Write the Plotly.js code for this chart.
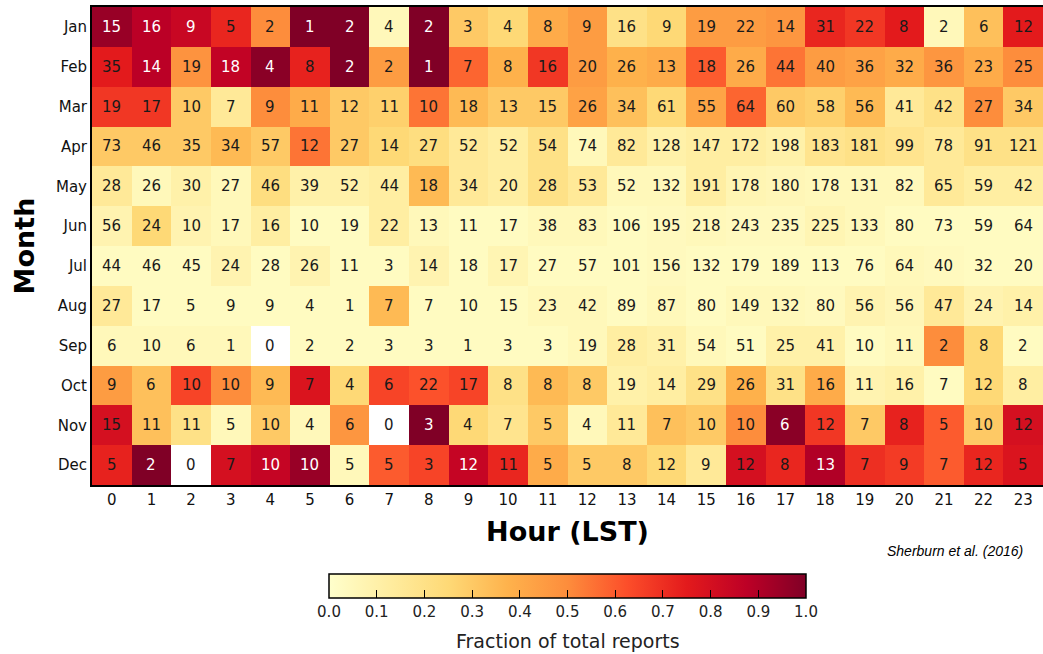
<!DOCTYPE html>
<html>
<head>
<meta charset="utf-8">
<script src="https://cdn.plot.ly/plotly-3.0.1.min.js"></script>
<style>html,body{margin:0;padding:0;background:#fff;} #chart{width:1043px;height:654px;}</style>
</head>
<body>
<div id="chart"></div>
<script>
const hours = ['0','1','2','3','4','5','6','7','8','9','10','11','12','13','14','15','16','17','18','19','20','21','22','23'];
const months = ['Jan','Feb','Mar','Apr','May','Jun','Jul','Aug','Sep','Oct','Nov','Dec'];

// report counts (text in cells)
const counts = [
  [15,16,9,5,2,1,2,4,2,3,4,8,9,16,9,19,22,14,31,22,8,2,6,12],
  [35,14,19,18,4,8,2,2,1,7,8,16,20,26,13,18,26,44,40,36,32,36,23,25],
  [19,17,10,7,9,11,12,11,10,18,13,15,26,34,61,55,64,60,58,56,41,42,27,34],
  [73,46,35,34,57,12,27,14,27,52,52,54,74,82,128,147,172,198,183,181,99,78,91,121],
  [28,26,30,27,46,39,52,44,18,34,20,28,53,52,132,191,178,180,178,131,82,65,59,42],
  [56,24,10,17,16,10,19,22,13,11,17,38,83,106,195,218,243,235,225,133,80,73,59,64],
  [44,46,45,24,28,26,11,3,14,18,17,27,57,101,156,132,179,189,113,76,64,40,32,20],
  [27,17,5,9,9,4,1,7,7,10,15,23,42,89,87,80,149,132,80,56,56,47,24,14],
  [6,10,6,1,0,2,2,3,3,1,3,3,19,28,31,54,51,25,41,10,11,2,8,2],
  [9,6,10,10,9,7,4,6,22,17,8,8,8,19,14,29,26,31,16,11,16,7,12,8],
  [15,11,11,5,10,4,6,0,3,4,7,5,4,11,7,10,10,6,12,7,8,5,10,12],
  [5,2,0,7,10,10,5,5,3,12,11,5,5,8,12,9,12,8,13,7,9,7,12,5]
];

// fraction of total reports (colour); null = no reports
const fraction = [
  [0.95,0.88,0.84,0.72,0.50,1.00,1.00,0.05,1.00,0.30,0.25,0.40,0.45,0.20,0.25,0.45,0.45,0.47,0.72,0.68,0.75,0.05,0.33,0.75],
  [0.75,0.88,0.48,0.86,0.98,0.73,1.00,0.45,1.00,0.58,0.38,0.68,0.45,0.38,0.40,0.60,0.40,0.55,0.45,0.43,0.40,0.47,0.40,0.50],
  [0.68,0.68,0.30,0.15,0.50,0.40,0.30,0.28,0.55,0.35,0.30,0.30,0.43,0.33,0.25,0.42,0.58,0.30,0.28,0.35,0.15,0.20,0.50,0.30],
  [0.30,0.30,0.30,0.35,0.30,0.55,0.30,0.25,0.22,0.15,0.12,0.20,0.05,0.15,0.10,0.12,0.12,0.10,0.18,0.20,0.18,0.15,0.20,0.20],
  [0.15,0.05,0.10,0.05,0.22,0.10,0.10,0.12,0.35,0.15,0.12,0.20,0.15,0.05,0.05,0.12,0.07,0.06,0.05,0.05,0.05,0.15,0.12,0.12],
  [0.08,0.25,0.08,0.05,0.12,0.03,0.03,0.12,0.05,0.03,0.03,0.05,0.05,0.03,0.04,0.05,0.04,0.04,0.07,0.05,0.03,0.03,0.03,0.03],
  [0.03,0.03,0.03,0.08,0.03,0.08,0.03,0.03,0.08,0.03,0.07,0.03,0.03,0.03,0.04,0.03,0.03,0.03,0.03,0.03,0.05,0.04,0.03,0.03],
  [0.15,0.03,0.03,0.03,0.03,0.03,0.03,0.35,0.03,0.03,0.03,0.05,0.05,0.03,0.05,0.03,0.05,0.05,0.04,0.08,0.06,0.15,0.08,0.10],
  [0.05,0.05,0.05,0.05,null,0.03,0.03,0.03,0.03,0.03,0.03,0.03,0.05,0.12,0.10,0.05,0.03,0.10,0.10,0.03,0.05,0.50,0.25,0.03],
  [0.45,0.33,0.65,0.50,0.35,0.78,0.25,0.65,0.62,0.65,0.20,0.35,0.30,0.10,0.12,0.20,0.38,0.20,0.40,0.08,0.10,0.03,0.25,0.12],
  [0.80,0.33,0.20,0.05,0.30,0.05,0.47,null,1.00,0.25,0.18,0.30,0.05,0.15,0.33,0.30,0.50,0.98,0.68,0.30,0.73,0.60,0.30,0.80],
  [0.73,1.00,null,0.80,0.85,0.95,0.05,0.60,0.65,0.85,0.72,0.40,0.30,0.30,0.25,0.15,0.80,0.72,0.90,0.70,0.67,0.60,0.72,0.78]
];

const cbTicks = [0.0,0.1,0.2,0.3,0.4,0.5,0.6,0.7,0.8,0.9,1.0];

const ylorrd = [
  [0.0,'#ffffcc'],[0.125,'#ffeda0'],[0.25,'#fed976'],[0.375,'#feb24c'],
  [0.5,'#fd8d3c'],[0.625,'#fc4e2a'],[0.75,'#e31a1c'],[0.875,'#bd0026'],[1.0,'#800026']
];

const annotations = [];
months.forEach((m, i) => {
  hours.forEach((h, j) => {
    const v = fraction[i][j];
    annotations.push({
      x: h, y: m, xref: 'x', yref: 'y',
      text: String(counts[i][j]), showarrow: false,
      font: {family: 'DejaVu Sans', size: 15, color: (v !== null && v >= 0.82) ? '#ffffff' : '#1a1a1a'}
    });
  });
});
annotations.push({
  xref: 'paper', yref: 'paper', x: 0.981, y: -0.117, xanchor: 'right', yanchor: 'top',
  text: '<i>Sherburn et al. (2016)</i>', showarrow: false,
  font: {family: 'Liberation Sans', size: 14, color: '#000'}
});
annotations.push({
  xref: 'paper', yref: 'paper', x: 0.5, y: -0.3, xanchor: 'center', yanchor: 'top',
  text: 'Fraction of total reports', showarrow: false,
  font: {family: 'DejaVu Sans', size: 19, color: '#222'}
});

const trace = {
  type: 'heatmap',
  x: hours, y: months, z: fraction,
  zmin: 0, zmax: 1,
  colorscale: ylorrd,
  hoverongaps: false,
  xgap: 0, ygap: 0,
  colorbar: {
    orientation: 'h',
    x: 0.5, xanchor: 'center',
    y: -0.186, yanchor: 'top',
    len: 0.5016, lenmode: 'fraction',
    thickness: 24, thicknessmode: 'pixels',
    outlinewidth: 1.5, outlinecolor: '#000',
    xpad: 0, ypad: 0,
    tickvals: cbTicks,
    ticktext: cbTicks.map(t => t.toFixed(1)),
    ticks: 'inside', ticklen: 8, tickcolor: '#000',
    tickfont: {family: 'DejaVu Sans', size: 15, color: '#222'}
  }
};

const layout = {
  width: 1043, height: 654,
  margin: {l: 92, r: 0, t: 7, b: 169},
  paper_bgcolor: '#fff', plot_bgcolor: '#fff',
  xaxis: {
    type: 'category', showgrid: false, zeroline: false,
    showline: true, linecolor: '#000', linewidth: 2, mirror: true,
    ticks: '', tickfont: {family: 'DejaVu Sans', size: 15, color: '#111'},
    title: {text: '<b>Hour (LST)</b>', standoff: 14, font: {family: 'DejaVu Sans', size: 27, color: '#000'}}
  },
  yaxis: {
    type: 'category', autorange: 'reversed', showgrid: false, zeroline: false,
    showline: true, linecolor: '#000', linewidth: 2, mirror: true,
    ticks: '', tickfont: {family: 'DejaVu Sans', size: 15, color: '#111'},
    title: {text: '<b>Month</b>', standoff: 14, font: {family: 'DejaVu Sans', size: 27, color: '#000'}}
  },
  annotations: annotations,
  showlegend: false
};

Plotly.newPlot('chart', [trace], layout, {displayModeBar: false, staticPlot: true});
</script>
</body>
</html>
